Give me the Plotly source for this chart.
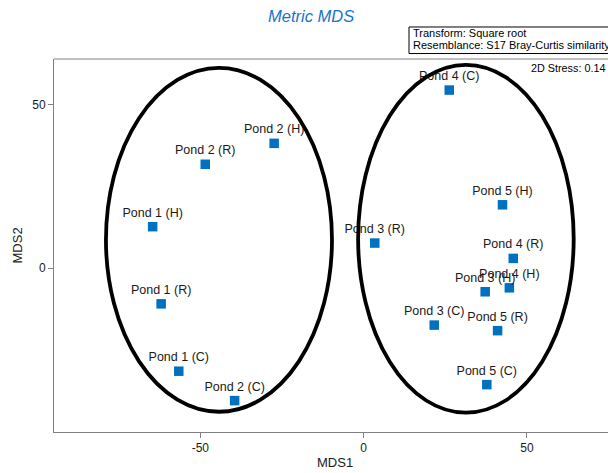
import plotly.graph_objects as go

# Data
labels = ["Pond 1 (H)", "Pond 1 (R)", "Pond 1 (C)", "Pond 2 (H)", "Pond 2 (R)", "Pond 2 (C)",
          "Pond 3 (H)", "Pond 3 (R)", "Pond 3 (C)", "Pond 4 (H)", "Pond 4 (R)", "Pond 4 (C)",
          "Pond 5 (H)", "Pond 5 (R)", "Pond 5 (C)"]
mds1 = [-64.6, -62.0, -56.6, -27.4, -48.5, -39.5,
        37.2, 3.4, 21.6, 44.6, 45.8, 26.2,
        42.5, 41.0, 37.7]
mds2 = [12.7, -10.9, -31.5, 38.2, 31.8, -40.5,
        -7.2, 7.7, -17.4, -6.0, 3.0, 54.5,
        19.4, -19.1, -35.6]

# Ellipse groups: (center x, center y, semi-axis x, semi-axis y)
ellipses = [(-44.3, 8.7, 34.6, 52.6), (31.3, 9.0, 33.0, 53.2)]

x_tick_vals = [-50, 0, 50]
x_tick_text = ["-50", "0", "50"]
y_tick_vals = [0, 50]
y_tick_text = ["0", "50"]

FONT = "Liberation Sans, Arial, sans-serif"

fig = go.Figure()
fig.add_trace(go.Scatter(
    x=mds1, y=mds2, mode="markers+text", text=labels,
    textposition="top center",
    textfont=dict(family=FONT, size=12.5, color="#1a1a1a"),
    marker=dict(symbol="square", size=9.5, color="#0070C0"),
    hoverinfo="text", showlegend=False, cliponaxis=False,
))

shapes = []
for cx, cy, ax, ay in ellipses:
    shapes.append(dict(type="circle", xref="x", yref="y",
                       x0=cx - ax, x1=cx + ax, y0=cy - ay, y1=cy + ay,
                       line=dict(color="black", width=3.8)))
# top frame line
shapes.append(dict(type="line", xref="paper", yref="paper", x0=0, x1=1, y0=1, y1=1,
                   line=dict(color="#808080", width=1)))
# info box
shapes.append(dict(type="rect", xref="paper", yref="paper", x0=0.6408, x1=1.05,
                   y0=1.0147, y1=1.0858, line=dict(color="black", width=1)))

annotations = [
    dict(text="<i>Metric MDS</i>", xref="paper", yref="paper", x=0.4639, y=1.1153,
         showarrow=False, font=dict(family=FONT, size=16.5, color="#1874CD"),
         xanchor="center", yanchor="middle"),
    dict(text="MDS1", xref="paper", yref="paper", x=0.507, y=-0.0831,
         showarrow=False, font=dict(family=FONT, size=13, color="#1a1a1a"),
         xanchor="center", yanchor="middle"),
    dict(text="MDS2", xref="paper", yref="paper", x=-0.065, y=0.5, textangle=-90,
         showarrow=False, font=dict(family=FONT, size=13, color="#1a1a1a"),
         xanchor="center", yanchor="middle"),
    dict(text="Transform: Square root", xref="paper", yref="paper", x=0.6453, y=1.0689,
         showarrow=False, font=dict(family=FONT, size=11, color="black"),
         xanchor="left", yanchor="middle"),
    dict(text="Resemblance: S17 Bray-Curtis similarity", xref="paper", yref="paper",
         x=0.6453, y=1.0362, showarrow=False,
         font=dict(family=FONT, size=11, color="black"),
         xanchor="left", yanchor="middle"),
    dict(text="2D Stress: 0.14", xref="paper", yref="paper", x=0.998, y=0.9759,
         showarrow=False, font=dict(family=FONT, size=10.8, color="black"),
         xanchor="right", yanchor="middle"),
]

axis_common = dict(
    showgrid=False, zeroline=False, showline=True, linecolor="#808080", linewidth=1,
    ticks="outside", ticklen=5, tickcolor="#808080", tickwidth=1,
    tickfont=dict(family=FONT, size=12, color="#1a1a1a"),
    automargin=False, fixedrange=True,
)

fig.update_layout(
    width=608, height=473,
    margin=dict(l=54, r=0, t=59, b=41, pad=0),
    paper_bgcolor="white", plot_bgcolor="white",
    xaxis=dict(range=[-94.8, 74.8], tickvals=x_tick_vals, ticktext=x_tick_text, **axis_common),
    yaxis=dict(range=[-50.1, 64.0], tickvals=y_tick_vals, ticktext=y_tick_text, **axis_common),
    shapes=shapes, annotations=annotations,
    showlegend=False,
)

fig.write_html("out.html", config={"displayModeBar": False},
               post_script="document.body.style.margin='0px';")
